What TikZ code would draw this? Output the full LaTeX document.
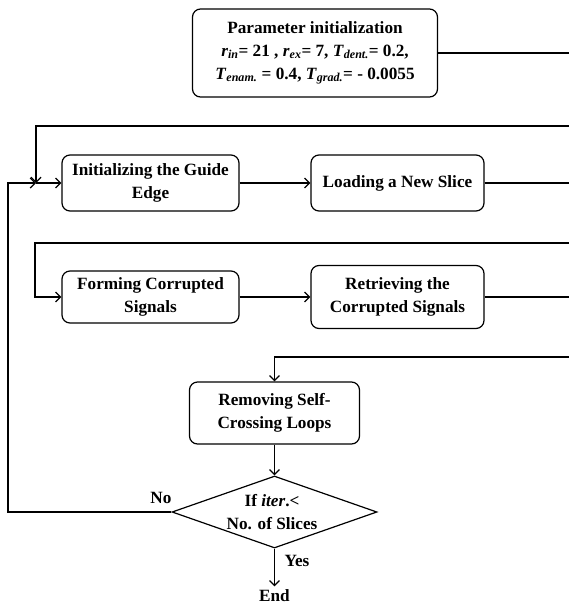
\documentclass[tikz,border=0pt]{standalone}
\usepackage{fontspec}
\setmainfont{Liberation Serif}
\usetikzlibrary{shapes.geometric,arrows.meta,positioning,calc}

\tikzset{
  block/.style={draw, line width=1.2pt, rounded corners=8pt, align=center, inner sep=2pt},
  decision/.style={draw, diamond, line width=1.2pt, inner sep=0pt},
  link/.style={line width=1.2pt},
  arr/.style={link, -{Straight Barb[length=5pt,width=10pt]}}
}
\newcommand{\prm}[2]{\textit{#1}\textsubscript{\textit{#2}}}

\begin{document}
\begin{tikzpicture}[x=1pt, y=-1pt, font=\bfseries\fontsize{17.2}{23}\selectfont]
\useasboundingbox (0,0) rectangle (569,606);

%Blocks
\node[block, minimum width=245, minimum height=88] (init) at (315,53)
  {Parameter initialization\\
   \prm{r}{in}= 21 , \prm{r}{ex}= 7, \prm{T}{dent.}= 0.2,\\
   \prm{T}{enam.} = 0.4, \prm{T}{grad.}= - 0.0055};
\node[block, minimum width=177, minimum height=56] (guide) at (150.5,183) {Initializing the Guide\\ Edge};
\node[block, minimum width=173, minimum height=56] (load) at (397.5,183) {Loading a New Slice};
\node[block, minimum width=177, minimum height=52] (form) at (150.5,297) {Forming Corrupted\\ Signals};
\node[block, minimum width=173, minimum height=63] (retr) at (397.5,297) {Retrieving the\\ Corrupted Signals};
\node[block, minimum width=170, minimum height=62] (remove) at (274.5,413) {Removing Self-\\ Crossing Loops};
\node[decision, minimum width=205, minimum height=72] (dec) at (274.5,512) {};
\node[align=center, inner sep=0pt] (dectext) at (272,512) {If \textit{iter}.<\\ No. of Slices};
\node (stop) at (274.5,596) {End};

%Free ends at the right border
\coordinate (e1) at (569,53);
\coordinate (e2) at (569,126);
\coordinate (e3) at (569,183);
\coordinate (e4) at (569,243);
\coordinate (e5) at (569,297);
\coordinate (e6) at (569,357);
\coordinate (j1) at (36,183);
\coordinate (t2) at (35,243);
\coordinate (back) at (8,512);

%Connectors
\draw[link] (init.east) -- (e1);
\draw[arr] (e2) -| (j1);
\draw[arr] (j1) -- (guide.west);
\draw[arr] (guide.east) -- (load.west);
\draw[link] (load.east) -- (e3);
\draw[arr] (e4) -- (t2) |- (form.west);
\draw[arr] (form.east) -- (retr.west);
\draw[link] (retr.east) -- (e5);
\draw[arr] (e6) -| (remove.north);
\draw[arr] (remove.south) -- (dec.north);
\draw[arr] (dec.west) -- (back) |- (j1);
\draw[arr] (dec.south) -- (stop.north);

%Labels
\node (no) at (161,498) {No};
\node (yes) at (297,561) {Yes};
\end{tikzpicture}
\end{document}
